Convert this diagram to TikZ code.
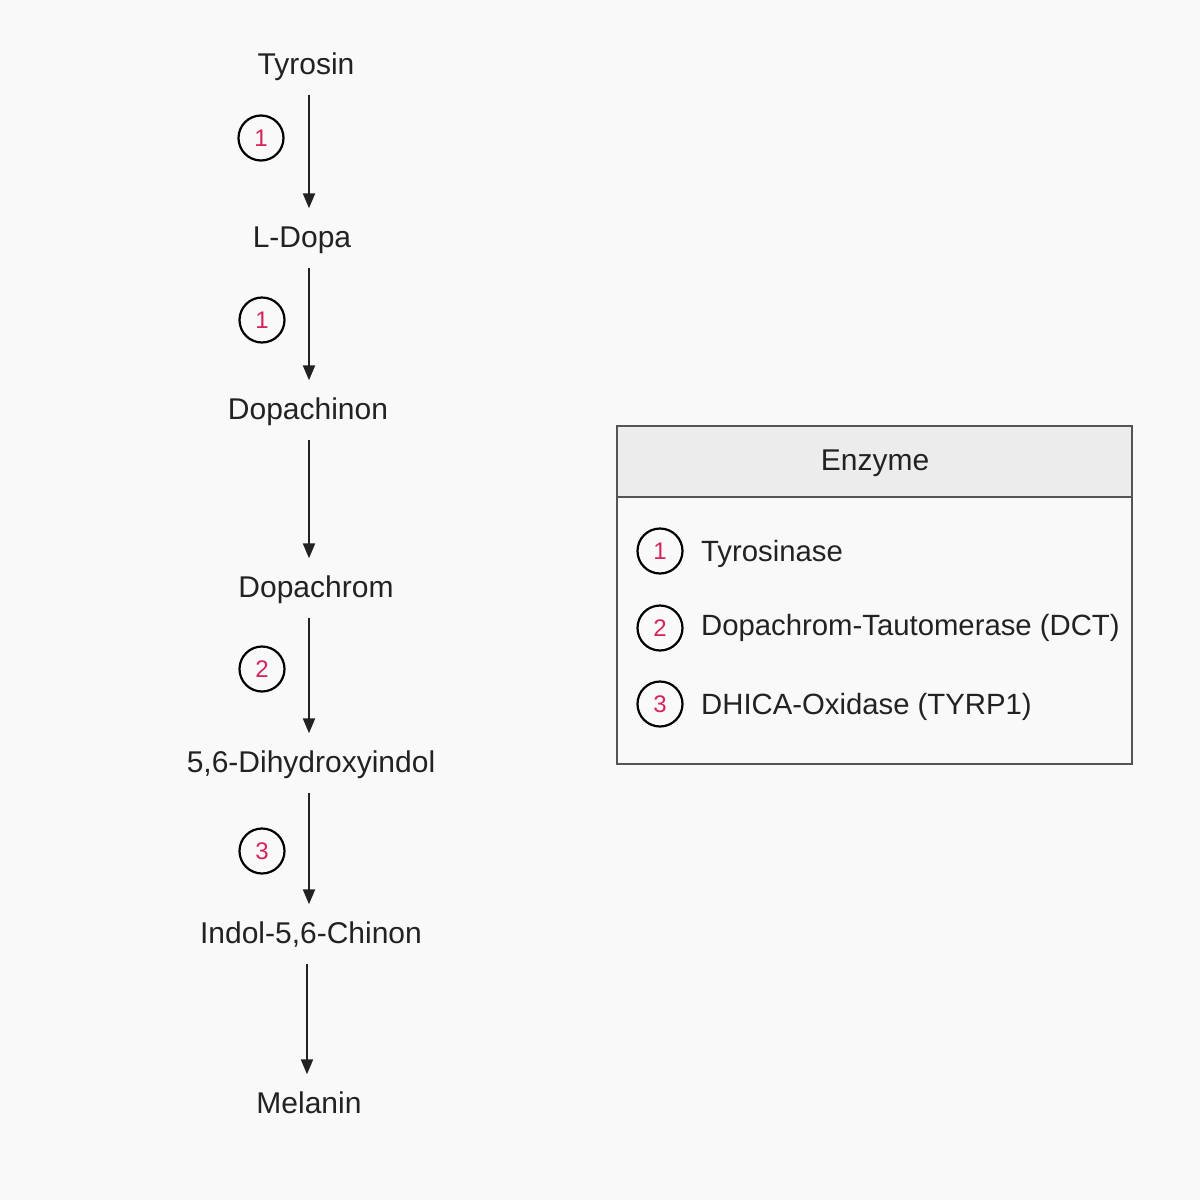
\documentclass[tikz,border=0pt]{standalone}
\usepackage{fontspec}
\setmainfont{Liberation Sans}
\usetikzlibrary{arrows.meta}
\definecolor{bg}{HTML}{F9F9F9}
\definecolor{ink}{HTML}{222222}
\definecolor{numred}{HTML}{D6245A}
\definecolor{hdr}{HTML}{ECECEC}
\definecolor{frame}{HTML}{555555}
\begin{document}
\begin{tikzpicture}[x=1pt,y=-1pt,
  chem/.style={inner sep=0pt,text height=21pt,text depth=6pt,text=ink,font=\fontsize{30}{33}\selectfont},
  arr/.style={draw=ink,line width=2.2pt,-{Triangle[length=15pt,width=12pt]},shorten <=14pt,shorten >=18pt},
  enz/.style={circle,draw=black,line width=2.2pt,minimum size=45pt,inner sep=0pt,text=numred,font=\fontsize{24}{26}\selectfont},
  legtext/.style={anchor=west,inner sep=0pt,text height=21pt,text depth=6pt,text=ink,font=\fontsize{29.3}{32}\selectfont}]
\fill[bg] (0,0) rectangle (1200,1200);
\useasboundingbox (0,0) rectangle (1200,1200);
\coordinate (ax) at (309,0);
\coordinate (ax2) at (307,0);
% chain
\node[chem] (tyr) at (306,67) {Tyrosin};
\node[chem] (dopa) at (302,240) {L-Dopa};
\node[chem] (chinon) at (308,412) {Dopachinon};
\node[chem] (chrom) at (316,590) {Dopachrom};
\node[chem] (dhi) at (311,765) {5,6-Dihydroxyindol};
\node[chem] (iq) at (311,936) {Indol-5,6-Chinon};
\node[chem] (mel) at (309,1106) {Melanin};
\draw[arr] (tyr.south -| ax) -- (dopa.north -| ax);
\draw[arr] (dopa.south -| ax) -- (chinon.north -| ax);
\draw[arr] (chinon.south -| ax) -- (chrom.north -| ax);
\draw[arr] (chrom.south -| ax) -- (dhi.north -| ax);
\draw[arr] (dhi.south -| ax) -- (iq.north -| ax);
\draw[arr] (iq.south -| ax2) -- (mel.north -| ax2);
\node[enz] (e1a) at (261,138) {1};
\node[enz] (e1b) at (262,320) {1};
\node[enz] (e2) at (262,669) {2};
\node[enz] (e3) at (262,851) {3};
% legend
\fill[hdr] (617,426) rectangle (1132,497);
\draw[frame,line width=1.8pt] (617,426) rectangle (1132,764);
\draw[frame,line width=1.8pt] (617,497) -- (1132,497);
\node[chem] (enzyme) at (875,463) {Enzyme};
\node[enz] (l1) at (660,551) {1};
\node[enz] (l2) at (660,628) {2};
\node[enz] (l3) at (660,704) {3};
\node[legtext] (t1) at (701,554) {Tyrosinase};
\node[legtext] (t2) at (701,628) {Dopachrom-Tautomerase (DCT)};
\node[legtext] (t3) at (701,707) {DHICA-Oxidase (TYRP1)};
\end{tikzpicture}
\end{document}
